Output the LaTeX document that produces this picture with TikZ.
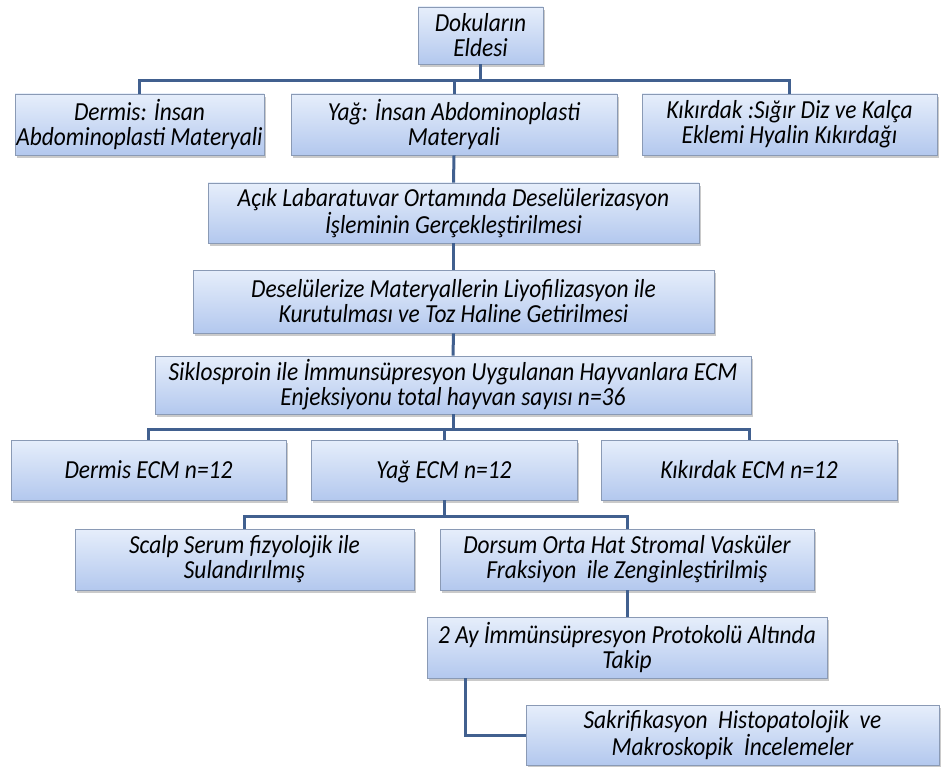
\documentclass[tikz,border=0pt]{standalone}
\usepackage{fontspec}
\setmainfont{Carlito}[FakeStretch=0.9]
\usepackage{tikz}
\usetikzlibrary{shadows}

\definecolor{kutuust}{HTML}{E6EEFB}
\definecolor{kutualt}{HTML}{B3C8EE}
\definecolor{kutucizgi}{HTML}{8A9AB5}
\definecolor{hatrenk}{HTML}{41608F}

\tikzset{
  kutu/.style={rectangle, draw=kutucizgi, line width=0.8pt, top color=kutuust, bottom color=kutualt,
    align=center, inner sep=1pt, font=\fontsize{26}{25}\selectfont\itshape,
    drop shadow={shadow xshift=2pt, shadow yshift=-3pt, opacity=0.35, fill=black!60}},
  tekkutu/.style={kutu, text height=20pt, text depth=3pt},
  hat/.style={draw=hatrenk, line width=3pt}
}

\begin{document}
\begin{tikzpicture}[x=1pt, y=-1pt]
\useasboundingbox (0,0) rectangle (941,767);

% kutular
\node[kutu, minimum width=125, minimum height=57] (doku) at (480.5,35.5) {Dokuların\\Eldesi};
\node[kutu, minimum width=249, minimum height=61] (dermis) at (139.5,124.5) {Dermis: İnsan\\Abdominoplasti Materyali};
\node[kutu, minimum width=326, minimum height=61] (yag) at (454,124.5) {Yağ: İnsan Abdominoplasti\\Materyali};
\node[kutu, minimum width=295, minimum height=61] (kikirdak) at (789.5,124.5) {Kıkırdak :Sığır Diz ve Kalça\\Eklemi Hyalin Kıkırdağı};
\node[kutu, minimum width=491, minimum height=60] (desel) at (453.5,213) {Açık Labaratuvar Ortamında Deselülerizasyon\\İşleminin Gerçekleştirilmesi};
\node[kutu, minimum width=521, minimum height=63] (liyo) at (453.5,301.5) {Deselülerize Materyallerin Liyofilizasyon ile\\Kurutulması ve Toz Haline Getirilmesi};
\node[kutu, minimum width=596, minimum height=58] (enjek) at (453,385) {Siklosproin ile İmmunsüpresyon Uygulanan Hayvanlara ECM\\Enjeksiyonu total hayvan sayısı n=36};
\node[tekkutu, minimum width=275, minimum height=60] (decm) at (148.5,470) {Dermis ECM n=12};
\node[tekkutu, minimum width=266, minimum height=60] (yecm) at (444,470) {Yağ ECM n=12};
\node[tekkutu, minimum width=296, minimum height=60] (kecm) at (749,470) {Kıkırdak ECM n=12};
\node[kutu, minimum width=339, minimum height=61] (scalp) at (244.5,559.5) {Scalp Serum fizyolojik ile\\Sulandırılmış};
\node[kutu, minimum width=374, minimum height=61] (dorsum) at (627,559.5) {Dorsum Orta Hat Stromal Vasküler\\Fraksiyon\ \ ile Zenginleştirilmiş};
\node[kutu, minimum width=400, minimum height=61] (takip) at (627,647.5) {2 Ay İmmünsüpresyon Protokolü Altında\\Takip};
\node[kutu, minimum width=413, minimum height=60] (sakri) at (732.5,735) {Sakrifikasyon\ \ Histopatolojik\ \ ve\\Makroskopik\ \ İncelemeler};

% baglantilar
\coordinate (bar1) at (0,81);
\coordinate (bar2) at (0,429);
\coordinate (bar3) at (0,516);
\draw[hat] (doku.south) -- (doku.south |- bar1);
\draw[hat] (dermis.north) -- (dermis.north |- bar1) -- (kikirdak.north |- bar1) -- (kikirdak.north);
\draw[hat] (yag.north) -- (yag.north |- bar1);
\draw[hat] (yag.south) -- (desel.north);
\draw[hat] (desel.south) -- (liyo.north);
\draw[hat] (liyo.south) -- (enjek.north);
\draw[hat] (enjek.south) -- (enjek.south |- bar2);
\draw[hat] (decm.north) -- (decm.north |- bar2) -- (kecm.north |- bar2) -- (kecm.north);
\draw[hat] (yecm.north) -- (yecm.north |- bar2);
\draw[hat] (yecm.south) -- (yecm.south |- bar3);
\draw[hat] (scalp.north) -- (scalp.north |- bar3) -- (dorsum.north |- bar3) -- (dorsum.north);
\draw[hat] (dorsum.south) -- (takip.north);
\draw[hat] ([xshift=39pt]takip.south west) |- (sakri.west);
\end{tikzpicture}
\end{document}
